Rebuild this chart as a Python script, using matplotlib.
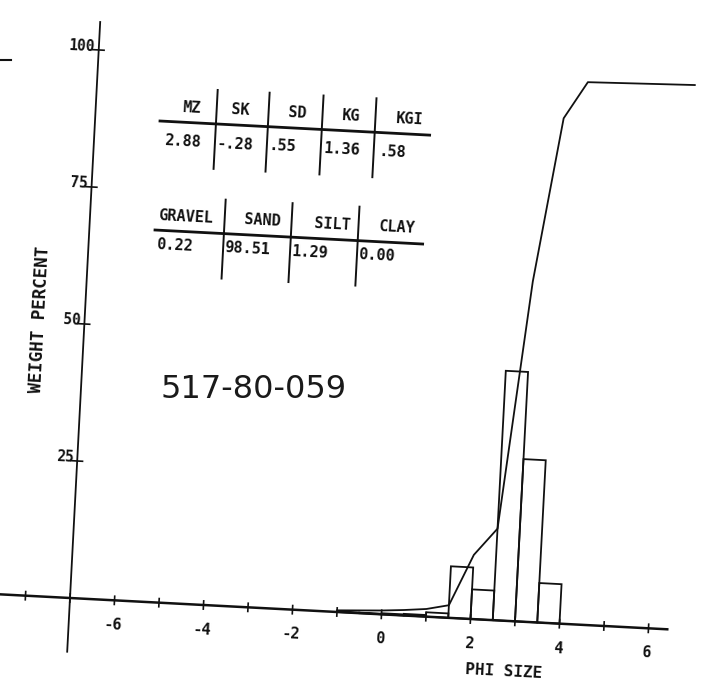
import matplotlib
matplotlib.use("Agg")
import matplotlib.pyplot as plt
from matplotlib.transforms import Affine2D
from matplotlib.lines import Line2D

# ---------------- data ----------------
bin_left = [-1.0, -0.5, 0.0, 0.5, 1.0, 1.5, 2.0, 2.5, 3.0, 3.5]
weight_pct = [0.1, 0.1, 0.2, 0.3, 0.8, 9.4, 5.4, 45.5, 29.6, 7.2]
bin_width = 0.5

cum_phi = [-1.0, -0.5, 0.0, 0.5, 1.0, 1.5, 2.0, 2.5, 3.0, 3.5, 4.0, 6.4]
cum_pct = [0.3, 0.5, 0.7, 1.0, 1.4, 2.3, 11.7, 16.7, 62.0, 92.0, 98.8, 99.3]

x_ticks = list(range(-8, 7))
x_tick_labels = [-6, -4, -2, 0, 2, 4, 6]
y_ticks = [25, 50, 75, 100]
y_tick_labels = ["25", "50", "75", "100"]

stat_names = ["MZ", "SK", "SD", "KG", "KGI"]
stat_vals = ["2.88", "-.28", ".55", "1.36", ".58"]
frac_names = ["GRAVEL", "SAND", "SILT", "CLAY"]
frac_vals = ["0.22", "98.51", "1.29", "0.00"]

sample_id = "517-80-059"

# ---------------- layout ----------------
W, H, DPI = 702, 688, 100
PX = 44.56   # pixels per phi unit
PY = 5.488   # pixels per percent
OX, OY = 70.0, 90.0  # display position of (phi=-7, 0%)
ANG = -3.0
INK = "#111111"
MONO = "DejaVu Sans Mono"

fig = plt.figure(figsize=(W / DPI, H / DPI), dpi=DPI)
fig.patch.set_facecolor("white")
ax = fig.add_axes([0, 0, 1, 1])
ax.axis("off")
ax.set_xlim(-7 - OX / PX, -7 + (W - OX) / PX)
ax.set_ylim(-OY / PY, (H - OY) / PY)

rot = ax.transData + Affine2D().rotate_deg_around(OX, OY, ANG)

# axes lines
ax.plot([-9.0, 6.45], [0, 0], color=INK, lw=1.8, transform=rot, clip_on=False,
        solid_capstyle="butt")
ax.plot([-7, -7], [-9.8, 105.1], color=INK, lw=1.3, transform=rot, clip_on=False)

# x ticks
for t in x_ticks:
    ax.plot([t, t], [-0.75, 0.75], color=INK, lw=1.2, transform=rot)
for t in x_tick_labels:
    ax.text(t, -4.5, f"{t}", transform=rot, ha="center", va="center",
            rotation=ANG, rotation_mode="anchor", fontsize=11,
            family=MONO, weight="bold", color=INK)

# y ticks
for t, lab in zip(y_ticks, y_tick_labels):
    ax.plot([-7 - 0.14, -7 + 0.12], [t, t], color=INK, lw=1.2, transform=rot)
    ax.text(-7 - 4 / PX, t + 0.6, lab, transform=rot, ha="right", va="center",
            rotation=ANG, rotation_mode="anchor", fontsize=10.5,
            family=MONO, weight="bold", color=INK)

# histogram
ax.bar(bin_left, weight_pct, width=bin_width, align="edge", fill=False,
       edgecolor=INK, linewidth=1.3, transform=rot)

# cumulative curve
ax.plot(cum_phi, cum_pct, color=INK, lw=1.3, transform=rot)

# axis labels
ax.text(2.81, -9.3, "PHI SIZE", transform=rot, ha="center", va="center",
        rotation=ANG, rotation_mode="anchor", fontsize=11.5,
        family=MONO, weight="bold", color=INK)
ax.text(-8.0, 50.5, "WEIGHT PERCENT", transform=rot, ha="center", va="center",
        rotation=90 + ANG, rotation_mode="anchor", fontsize=12.5,
        family=MONO, weight="bold", color=INK)


# ---------------- tables ----------------
def draw_table(ox, oy, length, seps, names, name_u, vals, val_u, name_v, val_v):
    T = Affine2D().rotate_deg(ANG).translate(ox, oy)
    fig.add_artist(Line2D([0, length], [0, 0], color=INK, lw=2.0, transform=T))
    for s in seps:
        fig.add_artist(Line2D([s, s], [34, -45], color=INK, lw=1.4, transform=T))
    for n, u in zip(names, name_u):
        fig.text(u, name_v, n, transform=T, ha="center", va="center",
                 rotation=ANG, rotation_mode="anchor", fontsize=11,
                 family=MONO, weight="bold", color=INK)
    for v, u in zip(vals, val_u):
        fig.text(u, val_v, v, transform=T, ha="left", va="center",
                 rotation=ANG, rotation_mode="anchor", fontsize=11,
                 family=MONO, weight="bold", color=INK)


draw_table(160, H - 121, 270, [56, 108, 162, 215], stat_names,
           [31, 80, 137, 190, 249], stat_vals, [5, 58, 110, 165, 220], 15, -19)
draw_table(155, H - 230, 268, [69, 136, 203], frac_names,
           [30, 107, 177, 242], frac_vals, [2, 70, 138, 204], 15, -14)

# sample stamp (not rotated)
fig.text(254 / W, 1 - 389 / H, sample_id, ha="center", va="center",
         fontsize=23, family="DejaVu Sans", color="#1a1a1a")

# small scan mark at top-left
fig.add_artist(Line2D([0, 11 / W], [1 - 60 / H, 1 - 60 / H], color=INK, lw=1.5,
                      transform=fig.transFigure))

fig.savefig("out.png", dpi=DPI, facecolor="white")
